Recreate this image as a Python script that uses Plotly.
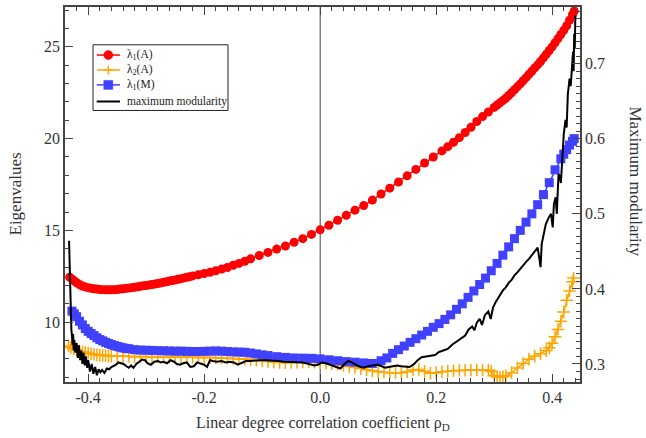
import plotly.graph_objects as go

# ---------------- data ----------------
red_pts = [(-0.432,12.45),(-0.428,12.35),(-0.424,12.25),(-0.42,12.15),(-0.415,12.05),(-0.41,11.97),(-0.405,11.92),(-0.40,11.88),
           (-0.395,11.85),(-0.39,11.82),(-0.385,11.8),(-0.38,11.78),(-0.375,11.77),(-0.37,11.76),(-0.365,11.76),(-0.36,11.76),
           (-0.355,11.77),(-0.35,11.78),(-0.345,11.8),(-0.34,11.82),(-0.335,11.84),(-0.33,11.86),(-0.325,11.88),(-0.32,11.9),
           (-0.315,11.93),(-0.31,11.95),(-0.305,11.98),(-0.30,12.0),(-0.295,12.03),(-0.29,12.05),(-0.285,12.08),(-0.28,12.1),
           (-0.275,12.14),(-0.27,12.17),(-0.265,12.2),(-0.26,12.24),(-0.255,12.27),(-0.25,12.3),(-0.245,12.34),(-0.24,12.37),
           (-0.235,12.41),(-0.23,12.44),(-0.225,12.48),(-0.22,12.52),(-0.21,12.58),(-0.20,12.65),(-0.19,12.72),(-0.18,12.8),
           (-0.17,12.89),(-0.16,12.98),(-0.15,13.1),(-0.14,13.2),(-0.13,13.32),(-0.12,13.45),(-0.105,13.63),(-0.09,13.8),
           (-0.075,13.98),(-0.06,14.15),(-0.045,14.35),(-0.03,14.55),(-0.015,14.78),(0.0,15.03),(0.015,15.28),(0.03,15.55),
           (0.045,15.82),(0.06,16.1),(0.075,16.35),(0.09,16.65),(0.105,16.98),(0.12,17.3),(0.135,17.63),(0.15,17.97),
           (0.165,18.32),(0.18,18.67),(0.195,19.0),(0.21,19.33),(0.22,19.56),(0.23,19.8),(0.24,20.05),(0.25,20.33),
           (0.26,20.62),(0.27,20.93),(0.28,21.2),(0.29,21.45),(0.30,21.7),(0.305,21.83),(0.31,21.95),(0.315,22.07),
           (0.32,22.2),(0.325,22.35),(0.33,22.5),(0.335,22.66),(0.34,22.82),(0.345,22.98),(0.35,23.15),(0.355,23.32),
           (0.36,23.5),(0.365,23.67),(0.37,23.85),(0.375,24.02),(0.38,24.2),(0.385,24.4),(0.39,24.6),(0.395,24.8),
           (0.40,25.0),(0.405,25.22),(0.41,25.45),(0.415,25.67),(0.42,25.9),(0.425,26.15),(0.43,26.45),(0.435,26.75),(0.438,26.95)]

orange_pts = [(-0.434,8.7),(-0.43,8.62),(-0.425,8.55),(-0.42,8.48),(-0.415,8.42),(-0.41,8.38),(-0.405,8.35),(-0.40,8.32),
              (-0.395,8.28),(-0.39,8.25),(-0.385,8.22),(-0.38,8.2),(-0.375,8.19),(-0.37,8.18),(-0.365,8.16),(-0.36,8.15),
              (-0.35,8.15),(-0.34,8.14),(-0.33,8.13),(-0.32,8.12),(-0.31,8.12),(-0.30,8.11),(-0.29,8.11),(-0.28,8.1),
              (-0.27,8.1),(-0.26,8.1),(-0.25,8.1),(-0.24,8.1),(-0.23,8.09),(-0.22,8.09),(-0.21,8.08),(-0.20,8.08),
              (-0.19,8.07),(-0.18,8.06),(-0.17,8.05),(-0.16,8.04),(-0.15,8.02),(-0.14,8.0),(-0.13,7.98),(-0.12,7.96),
              (-0.11,7.93),(-0.10,7.9),(-0.09,7.86),(-0.08,7.83),(-0.07,7.8),(-0.06,7.79),(-0.05,7.8),(-0.04,7.82),
              (-0.03,7.83),(-0.02,7.83),(-0.01,7.82),(0.0,7.8),(0.01,7.77),(0.02,7.73),(0.03,7.69),(0.04,7.64),
              (0.05,7.58),(0.06,7.53),(0.07,7.47),(0.08,7.41),(0.09,7.35),(0.10,7.3),(0.11,7.27),(0.12,7.25),
              (0.13,7.24),(0.14,7.24),(0.15,7.3),(0.16,7.4),(0.17,7.42),(0.18,7.32),(0.19,7.22),(0.20,7.25),
              (0.21,7.3),(0.22,7.33),(0.23,7.35),(0.24,7.37),(0.25,7.38),(0.26,7.39),(0.27,7.39),(0.28,7.39),
              (0.29,7.38),(0.295,7.32),(0.30,7.1),(0.305,7.02),(0.31,7.0),(0.315,7.02),(0.32,7.08),(0.33,7.25),
              (0.34,7.5),(0.35,7.75),(0.36,7.98),(0.37,8.15),(0.38,8.28),(0.39,8.45),(0.395,8.6),(0.40,8.85),
              (0.405,9.2),(0.41,9.6),(0.415,10.05),(0.42,10.55),(0.425,11.2),(0.43,11.7),(0.435,12.2),(0.437,12.4)]

blue_pts = [(-0.428,10.6),(-0.424,10.45),(-0.42,10.3),(-0.415,10.05),(-0.41,9.85),(-0.405,9.65),(-0.40,9.5),(-0.395,9.38),
            (-0.39,9.27),(-0.385,9.15),(-0.38,9.05),(-0.375,8.98),(-0.37,8.9),(-0.365,8.84),(-0.36,8.78),(-0.355,8.73),
            (-0.35,8.68),(-0.345,8.64),(-0.34,8.6),(-0.335,8.57),(-0.33,8.55),(-0.32,8.5),(-0.31,8.48),(-0.30,8.47),
            (-0.29,8.46),(-0.28,8.45),(-0.27,8.44),(-0.26,8.43),(-0.25,8.42),(-0.24,8.42),(-0.23,8.41),(-0.22,8.4),
            (-0.21,8.4),(-0.20,8.41),(-0.19,8.42),(-0.18,8.43),(-0.17,8.42),(-0.16,8.4),(-0.15,8.38),(-0.14,8.37),
            (-0.13,8.36),(-0.12,8.32),(-0.11,8.27),(-0.10,8.22),(-0.09,8.18),(-0.075,8.12),(-0.06,8.08),(-0.045,8.05),
            (-0.03,8.04),(-0.015,8.03),(0.0,8.0),(0.015,7.95),(0.03,7.9),(0.045,7.85),(0.06,7.82),(0.075,7.78),
            (0.09,7.75),(0.105,7.9),(0.115,8.05),(0.125,8.3),(0.135,8.5),(0.145,8.7),(0.155,8.9),(0.165,9.1),
            (0.175,9.3),(0.185,9.5),(0.195,9.72),(0.205,9.92),(0.215,10.15),(0.225,10.4),(0.235,10.7),(0.245,11.0),
            (0.255,11.35),(0.265,11.7),(0.275,12.05),(0.285,12.4),(0.295,12.8),(0.305,13.2),(0.315,13.65),(0.325,14.1),
            (0.335,14.55),(0.345,15.0),(0.355,15.45),(0.365,15.9),(0.375,16.4),(0.385,16.95),(0.395,17.6),(0.405,18.3),
            (0.415,18.9),(0.42,19.15),(0.425,19.4),(0.43,19.65),(0.435,19.85),(0.438,20.0)]

black_pts = [(-0.433,0.464),(-0.432,0.43),(-0.431,0.39),(-0.430,0.36),(-0.429,0.345),(-0.428,0.338),(-0.427,0.325),(-0.426,0.34),
             (-0.425,0.318),(-0.424,0.332),(-0.422,0.315),(-0.42,0.328),(-0.418,0.308),(-0.416,0.325),(-0.414,0.305),(-0.412,0.318),
             (-0.41,0.30),(-0.408,0.315),(-0.406,0.298),(-0.404,0.31),(-0.402,0.295),(-0.40,0.305),(-0.397,0.29),(-0.394,0.30),
             (-0.391,0.287),(-0.388,0.296),(-0.385,0.285),(-0.382,0.293),(-0.379,0.289),(-0.376,0.292),(-0.372,0.288),(-0.368,0.294),
             (-0.364,0.293),(-0.36,0.296),(-0.356,0.297),(-0.352,0.299),(-0.348,0.302),(-0.344,0.301),(-0.339,0.30),(-0.334,0.297),
             (-0.33,0.295),(-0.326,0.298),(-0.322,0.295),(-0.317,0.30),(-0.312,0.303),(-0.307,0.306),(-0.302,0.305),(-0.298,0.301),
             (-0.292,0.299),(-0.286,0.303),(-0.28,0.304),(-0.275,0.302),(-0.27,0.303),(-0.264,0.301),(-0.258,0.305),(-0.252,0.303),
             (-0.247,0.30),(-0.242,0.299),(-0.236,0.301),(-0.23,0.302),(-0.224,0.296),(-0.218,0.297),(-0.212,0.302),(-0.206,0.301),
             (-0.20,0.299),(-0.195,0.296),(-0.19,0.305),(-0.185,0.304),(-0.178,0.303),(-0.17,0.304),(-0.163,0.302),(-0.156,0.303),
             (-0.149,0.302),(-0.142,0.299),(-0.135,0.301),(-0.128,0.304),(-0.12,0.304),(-0.112,0.305),(-0.104,0.305),(-0.096,0.305),
             (-0.088,0.305),(-0.08,0.304),(-0.072,0.304),(-0.064,0.303),(-0.056,0.303),(-0.048,0.303),(-0.04,0.302),(-0.032,0.302),
             (-0.024,0.301),(-0.016,0.299),(-0.01,0.298),(-0.004,0.299),(0.003,0.302),(0.01,0.301),(0.017,0.299),(0.024,0.297),
             (0.03,0.295),(0.035,0.294),(0.042,0.30),(0.048,0.304),(0.052,0.303),(0.058,0.30),(0.064,0.298),(0.07,0.296),
             (0.075,0.295),(0.082,0.297),(0.09,0.298),(0.099,0.299),(0.106,0.297),(0.112,0.295),(0.118,0.296),(0.125,0.297),
             (0.133,0.298),(0.14,0.297),(0.147,0.296),(0.154,0.296),(0.162,0.30),(0.168,0.305),(0.175,0.309),(0.182,0.31),
             (0.19,0.311),(0.198,0.312),(0.205,0.316),(0.212,0.318),(0.22,0.32),(0.228,0.326),(0.235,0.33),(0.242,0.334),
             (0.25,0.338),(0.256,0.346),(0.262,0.35),(0.266,0.345),(0.27,0.355),(0.275,0.36),(0.279,0.352),(0.284,0.365),
             (0.29,0.37),(0.294,0.36),(0.298,0.375),(0.303,0.383),(0.31,0.392),(0.315,0.398),(0.32,0.402),(0.325,0.408),
             (0.33,0.412),(0.335,0.418),(0.34,0.422),(0.345,0.427),(0.35,0.432),(0.355,0.436),(0.36,0.44),(0.365,0.445),
             (0.37,0.45),(0.375,0.455),(0.378,0.44),(0.38,0.429),(0.382,0.46),(0.385,0.472),(0.389,0.486),(0.394,0.495),
             (0.398,0.50),(0.401,0.482),(0.403,0.513),(0.406,0.522),(0.408,0.50),(0.411,0.553),(0.413,0.55),(0.415,0.541),
             (0.418,0.58),(0.42,0.606),(0.423,0.625),(0.425,0.615),(0.427,0.659),(0.43,0.68),(0.432,0.67),(0.434,0.70),
             (0.436,0.716),(0.437,0.69),(0.438,0.74),(0.439,0.72),(0.44,0.764)]

x_tickvals = [-0.4, -0.2, 0.0, 0.2, 0.4]
x_ticktext = ["-0.4", "-0.2", "0.0", "0.2", "0.4"]
vline_x = [0.0]

names = ["λ<sub>1</sub>(A)", "λ<sub>2</sub>(A)", "λ<sub>1</sub>(M)", "maximum modularity"]
colors = ["#ff0000", "#ffa500", "#4040ff", "#000000"]
symbols = ["circle", "cross", "square", None]

def xs(p): return [a for a, _ in p]
def ys(p): return [b for _, b in p]

FONT = "Liberation Serif"
AX = "#444444"
TXT = "#333333"

fig = go.Figure()
fig.add_trace(go.Scatter(x=xs(red_pts), y=ys(red_pts), mode="lines+markers", name=names[0],
                         line=dict(color=colors[0], width=1.5),
                         marker=dict(symbol="circle", size=9, color=colors[0])))
fig.add_trace(go.Scatter(x=xs(orange_pts), y=ys(orange_pts), mode="lines+markers", name=names[1],
                         line=dict(color=colors[1], width=1.5),
                         marker=dict(symbol="cross-thin", size=9, color=colors[1],
                                     line=dict(color=colors[1], width=1.5))))
fig.add_trace(go.Scatter(x=xs(blue_pts), y=ys(blue_pts), mode="lines+markers", name=names[2],
                         line=dict(color=colors[2], width=1.5),
                         marker=dict(symbol="square", size=9, color=colors[2])))
fig.add_trace(go.Scatter(x=xs(black_pts), y=ys(black_pts), mode="lines", name=names[3], yaxis="y2",
                         line=dict(color=colors[3], width=2)))

shapes = []
for v in vline_x:
    shapes.append(dict(type="line", xref="x", yref="paper", x0=v, x1=v, y0=0, y1=1,
                       line=dict(color="#444444", width=1), layer="below"))

# ---- compact legend box (drawn as paper-space shapes + text) ----
leg_box = dict(x0=0.0544, x1=0.3165, y0=0.7241, y1=0.8992)
leg_rows = [0.8719, 0.8321, 0.7923, 0.748]
leg_line_x = (0.0616, 0.1068)
leg_mark_x = 0.0841
leg_text_x = 0.1165

shapes.append(dict(type="rect", xref="paper", yref="paper",
                   x0=leg_box["x0"], x1=leg_box["x1"], y0=leg_box["y0"], y1=leg_box["y1"],
                   line=dict(color="#222222", width=1), fillcolor="white", layer="above"))
annotations = []
for i, yy in enumerate(leg_rows):
    shapes.append(dict(type="line", xref="paper", yref="paper", x0=leg_line_x[0], x1=leg_line_x[1],
                       y0=yy, y1=yy, line=dict(color=colors[i], width=2 if i == 3 else 1.5), layer="above"))
    sym = symbols[i]
    common = dict(xref="paper", yref="paper", xsizemode="pixel", ysizemode="pixel",
                  xanchor=leg_mark_x, yanchor=yy, layer="above")
    if sym == "circle":
        shapes.append(dict(type="circle", x0=-4.5, x1=4.5, y0=-4.5, y1=4.5, fillcolor=colors[i],
                           line=dict(color=colors[i], width=0.5), **common))
    elif sym == "square":
        shapes.append(dict(type="rect", x0=-4.5, x1=4.5, y0=-4.5, y1=4.5, fillcolor=colors[i],
                           line=dict(color=colors[i], width=0.5), **common))
    elif sym == "cross":
        shapes.append(dict(type="path", path="M -4.5 0 L 4.5 0 M 0 -4.5 L 0 4.5",
                           line=dict(color=colors[i], width=1.5), **common))
    annotations.append(dict(text=names[i], xref="paper", yref="paper", x=leg_text_x, y=yy,
                            xanchor="left", yanchor="middle", showarrow=False,
                            font=dict(family=FONT, size=11.5, color="#222222")))

annotations += [
    dict(text="Linear degree correlation coefficient ρ<sub>D</sub>", xref="paper", yref="paper",
         x=0.5, y=0, yshift=-41, xanchor="center", yanchor="middle", showarrow=False,
         font=dict(family=FONT, size=16, color=TXT)),
    dict(text="Eigenvalues", xref="paper", yref="paper", x=0, y=0.5, xshift=-50,
         xanchor="center", yanchor="middle", textangle=-90, showarrow=False,
         font=dict(family=FONT, size=17, color=TXT)),
    dict(text="Maximum modularity", xref="paper", yref="paper", x=1, y=0.535, xshift=56,
         xanchor="center", yanchor="middle", textangle=90, showarrow=False,
         font=dict(family=FONT, size=17, color=TXT)),
]

tickfont = dict(family=FONT, size=16, color=TXT)
fig.update_layout(
    width=646, height=438,
    margin=dict(l=65, r=66, t=5, b=56),
    paper_bgcolor="white", plot_bgcolor="white",
    font=dict(family=FONT, size=16, color=TXT),
    showlegend=False,
    xaxis=dict(range=[-0.44, 0.448], tickmode="array", tickvals=x_tickvals, ticktext=x_ticktext,
               ticks="inside", ticklen=8, tickwidth=1, tickcolor=AX,
               showline=True, linecolor=AX, linewidth=1.5, mirror="ticks",
               showgrid=False, zeroline=False, tickfont=tickfont,
               minor=dict(dtick=0.02, tick0=0, ticks="inside", ticklen=4, tickcolor=AX, showgrid=False)),
    yaxis=dict(range=[6.74, 27.17], dtick=5, tick0=0, ticks="inside", ticklen=8, tickwidth=1, tickcolor=AX,
               showline=True, linecolor=AX, linewidth=1.5, mirror=False,
               showgrid=False, zeroline=False, tickfont=tickfont,
               minor=dict(dtick=1, ticks="inside", ticklen=4, tickcolor=AX, showgrid=False)),
    yaxis2=dict(range=[0.276, 0.7755], dtick=0.1, tick0=0, tickformat=".1f", overlaying="y", side="right",
                ticks="inside", ticklen=8, tickwidth=1, tickcolor=AX,
                showline=True, linecolor=AX, linewidth=1.5,
                showgrid=False, zeroline=False, tickfont=tickfont,
                minor=dict(dtick=0.01, ticks="inside", ticklen=4, tickcolor=AX, showgrid=False)),
    shapes=shapes,
    annotations=annotations,
)

fig.write_html("out.html", config={"displayModeBar": False},
               post_script="document.body.style.margin='0px';document.body.style.overflow='hidden';")
